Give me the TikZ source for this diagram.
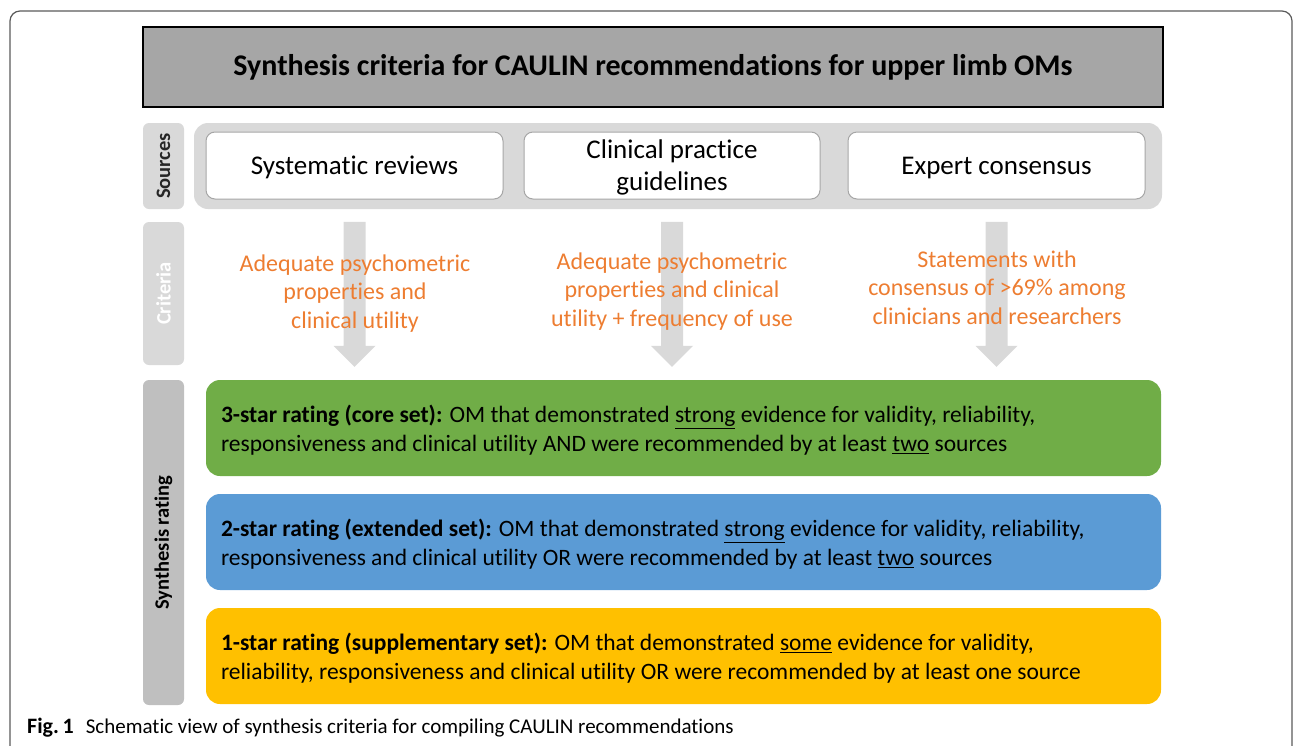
\documentclass[tikz,border=0pt]{standalone}
\usepackage{fontspec}
\setmainfont[Ligatures=NoCommon]{Carlito}
\usetikzlibrary{positioning}
\definecolor{titlegray}{HTML}{A6A6A6}
\definecolor{panelgray}{HTML}{D9D9D9}
\definecolor{midgray}{HTML}{BFBFBF}
\definecolor{critorange}{HTML}{ED7D31}
\definecolor{rgreen}{HTML}{70AD47}
\definecolor{rblue}{HTML}{5B9BD5}
\definecolor{ryellow}{HTML}{FFC000}
\definecolor{framegray}{HTML}{5A5A5A}
\begin{document}
\begin{tikzpicture}[x=1pt,y=-1pt,
  sidelab/.style={rounded corners=6pt, minimum width=41pt, inner sep=0pt, font=\fontsize{20.5}{24}\selectfont\bfseries},
  srcbox/.style={draw=titlegray, line width=1pt, fill=white, rounded corners=9pt, minimum height=67pt, inner sep=0pt, text depth=0pt, font=\fontsize{27}{32}\selectfont, align=center},
  crittext/.style={text=critorange, align=center, font=\fontsize{24}{28.5}\selectfont, inner sep=0pt},
  ratebox/.style={rounded corners=14pt, minimum width=955pt, minimum height=96pt, inner sep=0pt},
  ratetext/.style={anchor=west, align=left, font=\fontsize{23.5}{29}\selectfont, inner sep=0pt},
  arrowfill/.style={fill=panelgray}
]
\useasboundingbox (0,0) rectangle (1293,745);
% outer frame
\draw[framegray, line width=1.2pt, rounded corners=10pt] (10,11) rectangle (1292,760);
% title
\node[draw=black, line width=1.2pt, fill=titlegray, minimum width=1020pt, minimum height=80pt, inner sep=0pt,
  font=\fontsize{30}{34}\selectfont\bfseries] (title) at (653,67) {Synthesis criteria for CAULIN recommendations for upper limb OMs};
% side labels
\node[sidelab, fill=panelgray, minimum height=86pt, text=black!85] (lsrc) at (163.5,166) {\rotatebox{90}{Sources}};
\node[sidelab, fill=panelgray, minimum height=143pt, text=white] (lcrit) at (163.5,293.5) {\rotatebox{90}{Criteria}};
\node[sidelab, fill=midgray, minimum height=325pt, text=black] (lsyn) at (163.5,542.5) {\rotatebox{90}{Synthesis rating}};
% sources panel
\node[fill=panelgray, rounded corners=14pt, minimum width=968pt, minimum height=86pt, inner sep=0pt] (panel) at (678,166) {};
\node[srcbox, minimum width=297pt] (srcA) at (354.5,165.5) {Systematic reviews};
\node[srcbox, minimum width=296pt] (srcB) at (672,165.5) {Clinical practice\\guidelines};
\node[srcbox, minimum width=297pt] (srcC) at (996.5,165.5) {Expert consensus};
% rating boxes
\node[ratebox, fill=rgreen] (r3) at (683.5,428) {};
\node[ratebox, fill=rblue] (r2) at (683.5,542) {};
\node[ratebox, fill=ryellow] (r1) at (683.5,656) {};
% block arrows
\foreach \s/\r in {srcA/aA, srcB/aB, srcC/aC}{
  \coordinate (\r) at (\s.south |- lcrit.north);
  \fill[arrowfill] (\r) ++(-11,0) -- ++(22,0) -- ++(0,124) -- ++(10,0) -- ++(-21,21) -- ++(-21,-21) -- ++(10,0) -- cycle;
}
% criteria texts
\node[crittext] (cA) at (355,293.5) {Adequate psychometric\\properties and\\clinical utility};
\node[crittext] (cB) at (672,291.5) {Adequate psychometric\\properties and clinical\\utility + frequency of use};
\node[crittext] (cC) at (997,287.5) {Statements with\\consensus of >69\% among\\clinicians and researchers};
% rating texts
\node[ratetext] (t3) at ([xshift=15pt,yshift=-2.5pt]r3.west) {\textbf{3-star rating (core set):} OM that demonstrated \underline{strong} evidence for validity, reliability,\\responsiveness and clinical utility AND were recommended by at least \underline{two} sources};
\node[ratetext] (t2) at ([xshift=15pt,yshift=-2.5pt]r2.west) {\textbf{2-star rating (extended set):} OM that demonstrated \underline{strong} evidence for validity, reliability,\\responsiveness and clinical utility OR were recommended by at least \underline{two} sources};
\node[ratetext] (t1) at ([xshift=15pt,yshift=-2.5pt]r1.west) {\textbf{1-star rating (supplementary set):} OM that demonstrated \underline{some} evidence for validity,\\reliability, responsiveness and clinical utility OR were recommended by at least one source};
% caption
\node[anchor=base west, inner sep=0pt, font=\fontsize{21}{24}\selectfont] (cap) at (27,733) {\textbf{\fontsize{22}{24}\selectfont Fig.\,1}\hspace{12pt}Schematic view of synthesis criteria for compiling CAULIN recommendations};
\end{tikzpicture}
\end{document}
